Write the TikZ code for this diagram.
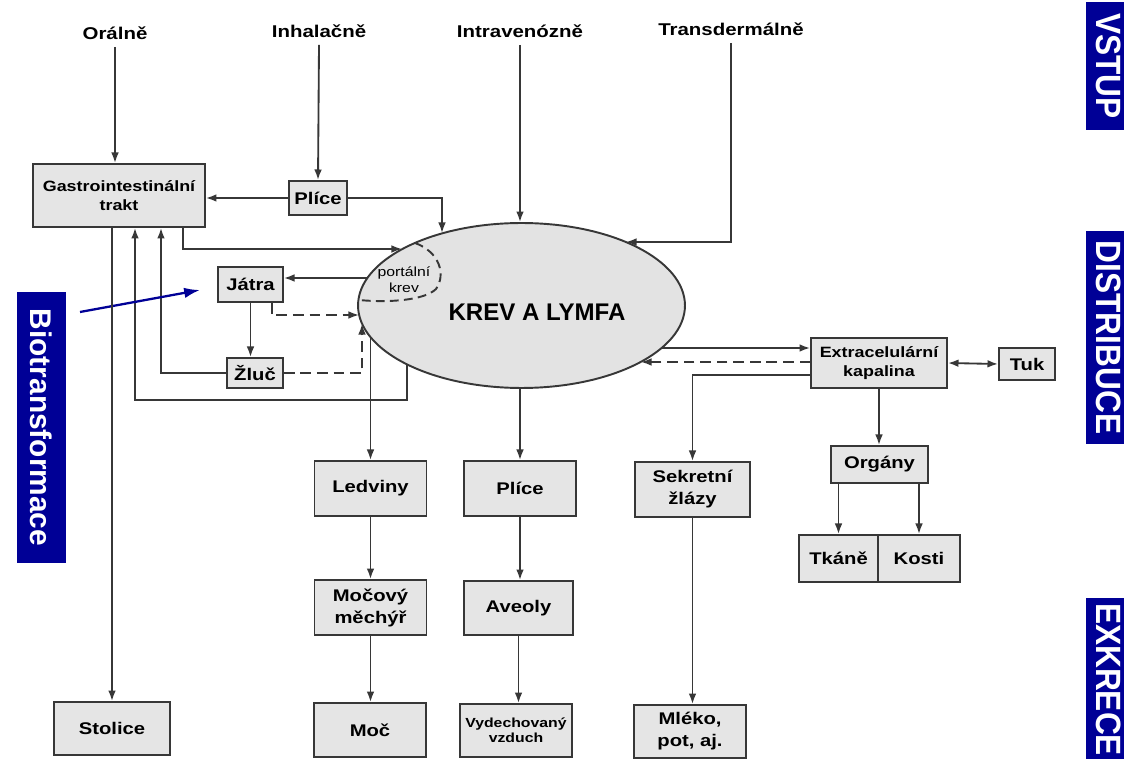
\documentclass[tikz,border=0pt]{standalone}
\usepackage{fontspec}
\setmainfont{Liberation Sans}
\newfontfamily\boxfont{Liberation Sans}[FakeStretch=1.2]
\newfontfamily\barfont{Liberation Sans}[FakeStretch=0.9]
\usetikzlibrary{arrows.meta,shapes.geometric,calc}
\definecolor{bioblue}{RGB}{0,0,150}
\definecolor{linegray}{RGB}{55,55,55}
\tikzset{
	box/.style={draw=linegray, line width=1.1pt, fill=black!10, inner sep=1pt, align=center, font=\boxfont\bfseries\fontsize{9.6}{12.5}\selectfont},
	colbox/.style={box, minimum width=2.24cm, minimum height=1.1cm},
	smalltext/.style={font=\boxfont\bfseries\fontsize{8.5}{10.4}\selectfont},
	tinytext/.style={font=\boxfont\bfseries\fontsize{7.5}{8.6}\selectfont},
	route/.style={font=\boxfont\bfseries\fontsize{9.7}{12}\selectfont, inner sep=4pt},
	flow/.style={draw=linegray, line width=1.05pt, -{Latex[length=6pt,width=4.4pt]}},
	dflow/.style={flow, dash pattern=on 6pt off 3.4pt},
	bothflow/.style={flow, {Latex[length=6pt,width=4.4pt]}-{Latex[length=6pt,width=4.4pt]}},
	sidebar/.style={fill=bioblue, text=white, rotate=-90, inner sep=0pt, minimum height=0.92cm, font=\barfont\bfseries\fontsize{20}{20}\selectfont},
}

\begin{document}
\begin{tikzpicture}[x=0.02cm, y=-0.02cm]
		%%%%% START %%%%%
		\useasboundingbox (0,0) rectangle (1124,759);
		
		\node[route] (oral) at (115,33) {Orálně};
		\node[route] (inhal) at (319,31) {Inhalačně};
		\node[route] (intra) at (520,31) {Intravenózně};
		\node[route] (trans) at (731,29) {Transdermálně};
		
		\node[box, smalltext, minimum width=3.44cm, minimum height=1.26cm] (gi) at (119,195.5) {Gastrointestinální\\trakt};
		\node[box, minimum width=1.16cm, minimum height=0.68cm] (plice) at (318,198) {Plíce};
		\node[box, minimum width=1.3cm, minimum height=0.7cm] (jatra) at (250.5,284.5) {Játra};
		\node[box, minimum width=1.12cm, minimum height=0.6cm] (zluc) at (255,373) {Žluč};
		
		\node[ellipse, draw=linegray, line width=1.1pt, fill=black!11, minimum width=6.54cm, minimum height=3.3cm, inner sep=0pt] (krev) at (521.5,305.5) {};
		\node[font=\bfseries\fontsize{13.7}{16}\selectfont] (krevtext) at (537,312) {KREV A LYMFA};
		\draw[linegray, line width=1.1pt, dash pattern=on 5pt off 3pt] (415,243) .. controls (440,252) and (446,275) .. (436,289) .. controls (425,300) and (390,303) .. (359,300);
		\node[font=\boxfont\fontsize{7.5}{9}\selectfont, align=center, inner sep=0pt] (portal) at (404,280) {portální\\krev};
		
		\node[box, smalltext, minimum width=2.72cm, minimum height=1cm] (extra) at (879,363) {Extracelulární\\kapalina};
		\node[box, minimum width=1.12cm, minimum height=0.64cm] (tuk) at (1027,364) {Tuk};
		\node[box, minimum width=1.94cm, minimum height=0.74cm] (organy) at (879.5,464.5) {Orgány};
		\node[box, minimum width=1.58cm, minimum height=0.94cm] (tkane) at (838.5,558.5) {Tkáně};
		\node[box, minimum width=1.64cm, minimum height=0.94cm] (kosti) at (919,558.5) {Kosti};
		
		\node[box, minimum width=2.32cm, minimum height=1.06cm] (stolice) at (112,728.5) {Stolice};
		\node[colbox] (ledv) at (370.5,488.5) {Ledviny};
		\node[colbox] (mocovy) at (370.5,607.5) {Močový\\měchýř};
		\node[colbox, minimum height=1.08cm] (moc) at (370,730) {Moč};
		\node[colbox] (plice2) at (520,488.5) {Plíce};
		\node[colbox, minimum width=2.18cm, minimum height=1.08cm] (aveoly) at (518.5,608) {Aveoly};
		\node[colbox, tinytext, minimum height=1.06cm] (vydech) at (516,730.5) {Vydechovaný\\vzduch};
		\node[colbox, minimum width=2.3cm] (sekr) at (692.5,489.5) {Sekretní\\žlázy};
		\node[colbox, minimum height=1.06cm] (mleko) at (690,731.5) {Mléko,\\pot, aj.};
		
		\node[sidebar, minimum width=2.56cm] (vstup) at (1109,66) {VSTUP};
		\node[sidebar, minimum width=4.26cm] (distr) at (1109,337.5) {DISTRIBUCE};
		\node[sidebar, minimum width=3.26cm] (exkr) at (1109,679.5) {EXKRECE};
		\node[sidebar, font=\rmfamily\bfseries\fontsize{17}{17}\selectfont, minimum width=5.42cm, minimum height=0.98cm] (bio) at (41.5,427.5) {Biotransformace};
		
		% vstup
		\draw[flow] (oral.south) -- (oral.south |- gi.north);
		\draw[flow] (inhal.south) -- (plice.north);
		\draw[flow] (intra.south) -- (intra.south |- krev.north);
		\coordinate (transin) at (626,242);
		\draw[flow] (trans.south) |- (transin);
		\draw[flow] (plice.west) -- (plice.west -| gi.east);
		\coordinate (pliin) at (442,233);
		\draw[flow] (plice.east) -| (pliin);
		\coordinate (giin) at (402,249);
		\draw[flow] ([xshift=1.28cm]gi.south) |- (giin);
		
		% biotransformace
		\coordinate (krevjat) at (367,278);
		\draw[flow] (krevjat) -- (krevjat -| jatra.east);
		\draw[flow] (jatra.south) -- (jatra.south |- zluc.north);
		\coordinate (jatin) at (359,315);
		\draw[dflow] ([xshift=0.43cm]jatra.south) |- (jatin);
		\coordinate (zlucin) at (362,324);
		\draw[dflow] (zluc.east) -| (zlucin);
		\draw[flow] (zluc.west) -| ([xshift=0.84cm]gi.south);
		\coordinate (krevout) at (407,364);
		\coordinate (gback) at (135,400);
		\draw[flow] (krevout) |- (gback) -- (gback |- gi.south);
		\coordinate (biofrom) at (80,312);
		\coordinate (bioto) at (200,290);
		\draw[bioblue, line width=1.3pt, -{Latex[length=9pt,width=6pt]}] (biofrom) -- (bioto);
		
		% distribuce
		\coordinate (krevex) at (662,348);
		\draw[flow] (krevex) -- (krevex -| extra.west);
		\coordinate (exkrev) at (641,362);
		\draw[dflow] (exkrev -| extra.west) -- (exkrev);
		\draw[bothflow] (extra.east) -- (tuk.west);
		\draw[flow] (extra.south) -- (extra.south |- organy.north);
		\draw[flow] (organy.south -| tkane) -- (tkane.north);
		\draw[flow] (organy.south -| kosti) -- (kosti.north);
		
		% exkrece
		\draw[flow] (stolice.north |- gi.south) -- (stolice.north);
		\coordinate (krevled) at (370.5,337);
		\draw[flow] (krevled) -- (ledv.north);
		\draw[flow] (ledv.south) -- (mocovy.north);
		\draw[flow] (mocovy.south) -- (mocovy.south |- moc.north);
		\draw[flow] (krev.south -| plice2.north) -- (plice2.north);
		\draw[flow] (plice2.south) -- (plice2.south |- aveoly.north);
		\draw[flow] (aveoly.south) -- (aveoly.south |- vydech.north);
		\draw[flow] ([yshift=-0.24cm]extra.west) -| (sekr.north);
		\draw[flow] (sekr.south) -- (sekr.south |- mleko.north);
		
		%%%%% END %%%%%
\end{tikzpicture}
\end{document}
